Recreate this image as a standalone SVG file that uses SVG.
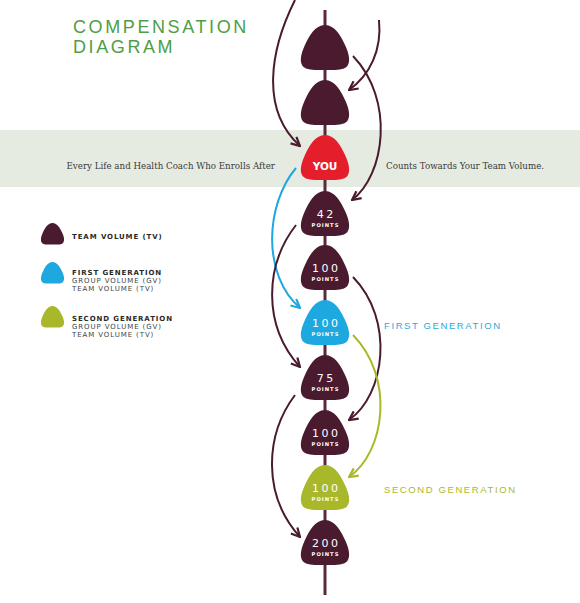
<svg xmlns="http://www.w3.org/2000/svg" width="580" height="603" viewBox="0 0 580 603">
<style>
.num{font-family:"DejaVu Sans",sans-serif;font-size:11px;fill:#fff;text-anchor:middle;letter-spacing:2.5px}
.pts{font-family:"DejaVu Sans",sans-serif;font-weight:bold;font-size:5.2px;fill:#fff;text-anchor:middle;letter-spacing:1px}
.band{font-family:"DejaVu Serif",serif;font-size:8.7px;fill:#3a3a3a}
.leg{font-family:"DejaVu Sans",sans-serif;font-size:7px;fill:#444;letter-spacing:0.9px}
.legb{font-family:"DejaVu Sans",sans-serif;font-weight:bold;font-size:7px;fill:#2a2a2a;letter-spacing:0.9px}
.lbl{font-family:"Liberation Sans",sans-serif;font-size:9.5px;letter-spacing:1.6px}
.c{fill:none;stroke-width:2}
.m{fill:#4a1a2f}
</style>
<defs>
<path id="pick" d="M0,0 C10,0 16,11 20.5,21 C24.5,30 25.5,37 22,41.5 C18,45.5 8,45 0,45 C-8,45 -18,45.5 -22,41.5 C-25.5,37 -24.5,30 -20.5,21 C-16,11 -10,0 0,0 Z"/>
<marker id="am" viewBox="0 0 10 10" refX="9" refY="5" markerWidth="11" markerHeight="11" markerUnits="userSpaceOnUse" orient="auto"><path d="M1,1 L9,5 L1,9" fill="none" stroke="#4a1a2f" stroke-width="2"/></marker>
<marker id="ab" viewBox="0 0 10 10" refX="9" refY="5" markerWidth="11" markerHeight="11" markerUnits="userSpaceOnUse" orient="auto"><path d="M1,1 L9,5 L1,9" fill="none" stroke="#1ea8e0" stroke-width="2"/></marker>
<marker id="ag" viewBox="0 0 10 10" refX="9" refY="5" markerWidth="11" markerHeight="11" markerUnits="userSpaceOnUse" orient="auto"><path d="M1,1 L9,5 L1,9" fill="none" stroke="#a9b82b" stroke-width="2"/></marker>
</defs>
<rect width="580" height="603" fill="#fff"/>
<rect x="0" y="130" width="580" height="57" fill="#e5ebe1"/>
<g id="title" font-family="Liberation Sans, sans-serif" font-size="18" fill="#4d9e46" letter-spacing="2.6">
<text x="73" y="33">COMPENSATION</text>
<text x="73" y="53">DIAGRAM</text>
</g>
<g id="band-text">
<text class="band" x="275" y="169" text-anchor="end">Every Life and Health Coach Who Enrolls After</text>
<text class="band" x="386" y="169">Counts Towards Your Team Volume.</text>
</g>
<line id="spine" x1="325" y1="10" x2="325" y2="595" stroke="#5a2a3c" stroke-width="3"/>
<g id="connectors">
<path class="c" stroke="#4a1a2f" marker-end="url(#am)" d="M295,0 C270,50 260,110 300,146"/>
<path class="c" stroke="#4a1a2f" marker-end="url(#am)" d="M379,20 C382,50 370,75 349,90"/>
<path class="c" stroke="#4a1a2f" marker-end="url(#am)" d="M353,56 C395,100 385,175 352,200"/>
<path class="c" stroke="#1ea8e0" marker-end="url(#ab)" d="M296,168 C265,205 262,275 300,308"/>
<path class="c" stroke="#4a1a2f" marker-end="url(#am)" d="M296,225 C265,265 262,325 300,367"/>
<path class="c" stroke="#4a1a2f" marker-end="url(#am)" d="M353,277 C395,320 385,395 349,420"/>
<path class="c" stroke="#a9b82b" marker-end="url(#ag)" d="M353,335 C395,378 385,452 349,477"/>
<path class="c" stroke="#4a1a2f" marker-end="url(#am)" d="M295,395 C265,435 262,495 300,537"/>
</g>
<g id="n1"><use href="#pick" x="325" y="25" class="m"/></g>
<g id="n2"><use href="#pick" x="325" y="80" class="m"/></g>
<g id="you"><use href="#pick" x="325" y="135" fill="#e41e2b"/><text x="325" y="169.5" font-family="DejaVu Sans, sans-serif" font-weight="bold" font-size="10.5" fill="#fff" text-anchor="middle">YOU</text></g>
<g id="n42"><use href="#pick" x="325" y="191" class="m"/><text class="num" x="326.2" y="218">42</text><text class="pts" x="325.5" y="227">POINTS</text></g>
<g id="n100a"><use href="#pick" x="325" y="245" class="m"/><text class="num" x="326.2" y="272">100</text><text class="pts" x="325.5" y="281">POINTS</text></g>
<g id="n100b"><use href="#pick" x="325" y="300" fill="#1ea8e0"/><text class="num" x="326.2" y="327">100</text><text class="pts" x="325.5" y="336">POINTS</text></g>
<g id="n75"><use href="#pick" x="325" y="355" class="m"/><text class="num" x="326.2" y="382">75</text><text class="pts" x="325.5" y="391">POINTS</text></g>
<g id="n100c"><use href="#pick" x="325" y="410" class="m"/><text class="num" x="326.2" y="437">100</text><text class="pts" x="325.5" y="446">POINTS</text></g>
<g id="n100d"><use href="#pick" x="325" y="465" fill="#a9b82b"/><text class="num" x="326.2" y="492">100</text><text class="pts" x="325.5" y="501">POINTS</text></g>
<g id="n200"><use href="#pick" x="325" y="520" class="m"/><text class="num" x="326.2" y="547">200</text><text class="pts" x="325.5" y="556">POINTS</text></g>
<g id="label-first"><text class="lbl" x="384" y="329" fill="#2aa9e0">FIRST GENERATION</text></g>
<g id="label-second"><text class="lbl" x="384" y="493" fill="#a9b82b">SECOND GENERATION</text></g>
<g id="legend-tv">
<use href="#pick" transform="translate(52.5,223) scale(0.48)" class="m"/>
<text class="legb" x="72" y="239">TEAM VOLUME (TV)</text>
</g>
<g id="legend-first">
<use href="#pick" transform="translate(52.5,262) scale(0.48)" fill="#1ea8e0"/>
<text class="legb" x="72" y="275">FIRST GENERATION</text>
<text class="leg" x="72" y="283">GROUP VOLUME (GV)</text>
<text class="leg" x="72" y="291">TEAM VOLUME (TV)</text>
</g>
<g id="legend-second">
<use href="#pick" transform="translate(52.5,306) scale(0.48)" fill="#a9b82b"/>
<text class="legb" x="72" y="321">SECOND GENERATION</text>
<text class="leg" x="72" y="329">GROUP VOLUME (GV)</text>
<text class="leg" x="72" y="337">TEAM VOLUME (TV)</text>
</g>
</svg>
